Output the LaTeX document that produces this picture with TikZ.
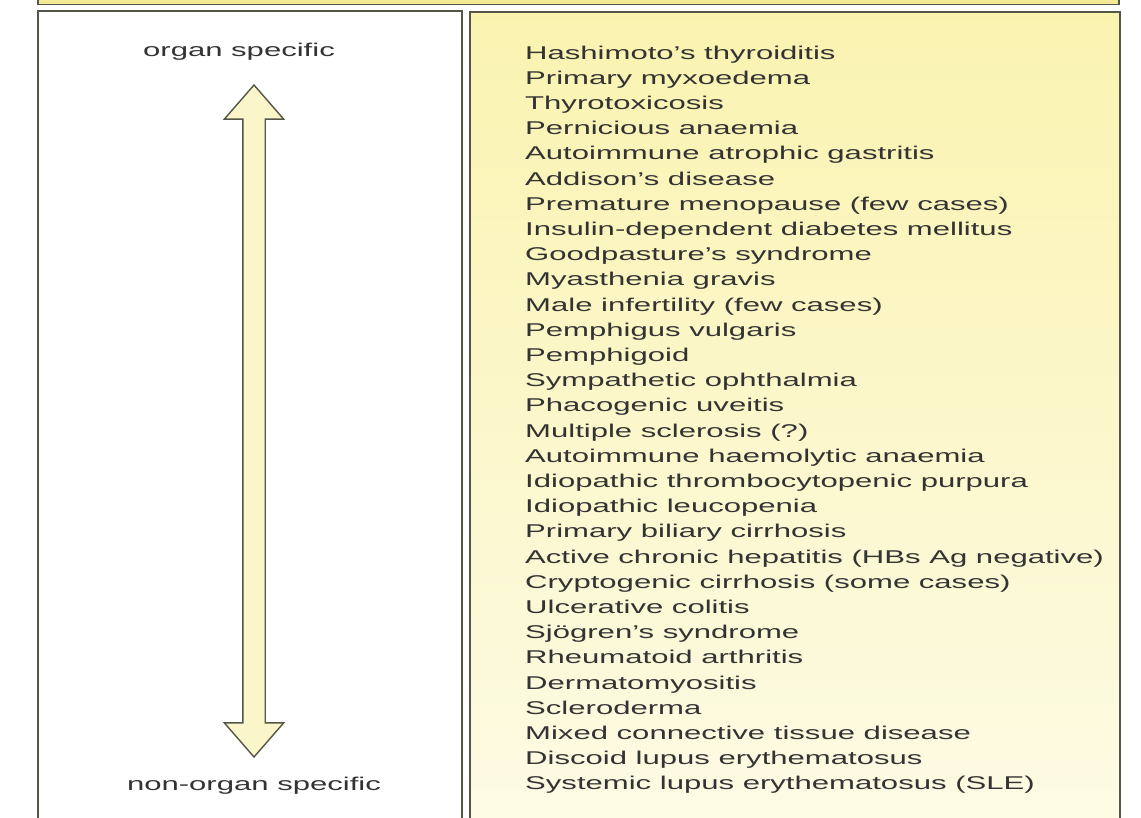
\documentclass[tikz,border=0pt]{standalone}
\usepackage{fontspec}
\setmainfont{Liberation Sans}[FakeStretch=1.68]
\usetikzlibrary{shapes.arrows, positioning}

\definecolor{inkgray}{HTML}{333333}
\definecolor{rulegray}{HTML}{55554A}
\definecolor{paleyellow}{HTML}{FAF3B0}
\definecolor{creamyellow}{HTML}{FDFBE6}
\definecolor{bandyellow}{HTML}{F4EA96}
\definecolor{arrowfill}{HTML}{FBF6CA}

\begin{document}
\begin{tikzpicture}[
    x=1pt, y=-1pt,
    panel/.style={draw=rulegray, line width=1.6pt},
    label/.style={font=\fontsize{18.5}{24}\selectfont, text=inkgray, inner sep=0pt},
    item/.style={label, anchor=base west},
    scalearrow/.style={double arrow, draw=rulegray, line width=1.4pt, fill=arrowfill,
        minimum height=672pt, minimum width=58pt, double arrow head extend=18.5pt,
        double arrow tip angle=82, inner xsep=0pt, inner ysep=10.5pt}
  ]
  \clip (0,0) rectangle (1141,817);
  \fill[white] (0,0) rectangle (1141,817);

  % top band
  \draw[panel, fill=bandyellow] (38,-10) rectangle (1119,4.5);

  % the two panels
  \draw[panel, fill=white] (38,11) rectangle (462,840);
  \draw[panel, top color=paleyellow, bottom color=creamyellow] (470,12) rectangle (1120,840);

  % scale on the left
  \node[label, anchor=base] (organ) at (239,56) {organ specific};
  \node[label, anchor=base] (nonorgan) at (254,790) {non-organ specific};
  \node[scalearrow, rotate=90] (scale) at (254,421) {};

  % list of diseases
  \foreach \name [count=\i] in {
      {Hashimoto’s thyroiditis},
      {Primary myxoedema},
      {Thyrotoxicosis},
      {Pernicious anaemia},
      {Autoimmune atrophic gastritis},
      {Addison’s disease},
      {Premature menopause (few cases)},
      {Insulin-dependent diabetes mellitus},
      {Goodpasture’s syndrome},
      {Myasthenia gravis},
      {Male infertility (few cases)},
      {Pemphigus vulgaris},
      {Pemphigoid},
      {Sympathetic ophthalmia},
      {Phacogenic uveitis},
      {Multiple sclerosis (?)},
      {Autoimmune haemolytic anaemia},
      {Idiopathic thrombocytopenic purpura},
      {Idiopathic leucopenia},
      {Primary biliary cirrhosis},
      {Active chronic hepatitis (HBs Ag negative)},
      {Cryptogenic cirrhosis (some cases)},
      {Ulcerative colitis},
      {Sjögren’s syndrome},
      {Rheumatoid arthritis},
      {Dermatomyositis},
      {Scleroderma},
      {Mixed connective tissue disease},
      {Discoid lupus erythematosus},
      {Systemic lupus erythematosus (SLE)}}
    \node[item] (d\i) at (525, {59+25.2*(\i-1)}) {\name};
\end{tikzpicture}
\end{document}
